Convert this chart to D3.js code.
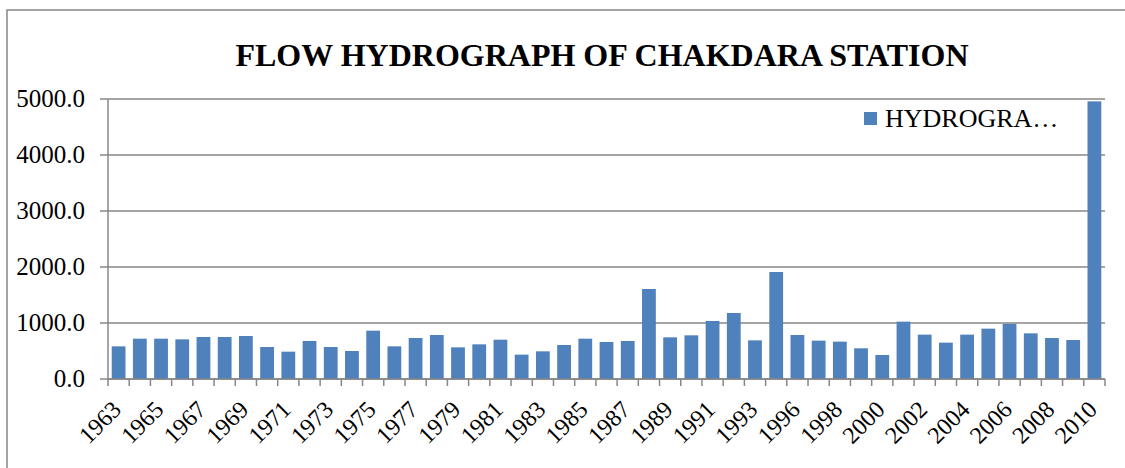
<!DOCTYPE html>
<html>
<head>
<meta charset="utf-8">
<script src="https://cdn.jsdelivr.net/npm/d3@7"></script>
<style>
  html, body { margin: 0; background: #fff; overflow: hidden; }
  svg { display: block; }
  text { font-family: "Liberation Serif", "Times New Roman", serif; fill: #000; }
</style>
</head>
<body>
<svg id="chart" width="1125" height="468"></svg>
<script>
// categories (1994 is not in the record)
const years = [1963, 1964, 1965, 1966, 1967, 1968, 1969, 1970, 1971, 1972, 1973, 1974, 1975,
  1976, 1977, 1978, 1979, 1980, 1981, 1982, 1983, 1984, 1985, 1986, 1987, 1988, 1989, 1990,
  1991, 1992, 1993, 1995, 1996, 1997, 1998, 1999, 2000, 2001, 2002, 2003, 2004, 2005, 2006,
  2007, 2008, 2009, 2010];
const flows = [583, 720, 720, 708, 750, 750, 768, 571, 488, 679, 571, 500, 863,
  583, 732, 786, 565, 619, 702, 435, 494, 607, 720, 661, 679, 1607, 744, 780,
  1036, 1179, 690, 1911, 786, 685, 667, 548, 429, 1024, 792, 649, 792, 899, 985,
  815, 732, 696, 4958];
const yTicks = [0, 1000, 2000, 3000, 4000, 5000];
const seriesName = "HYDROGRA\u2026";
const title = "FLOW HYDROGRAPH OF CHAKDARA STATION";

const svg = d3.select("#chart");
const gridColor = "#878787";
const barColor = "#4f81bd";

// outer frame of the chart area: only top and left edges are inside the picture
svg.append("path")
  .attr("d", "M7,468 L7,10 L1125,10")
  .attr("fill", "none")
  .attr("stroke", gridColor)
  .attr("stroke-width", 1.5);

const plotLeft = 108, plotRight = 1105, plotTop = 99, plotBottom = 379;

const x = d3.scaleBand()
  .domain(years)
  .range([plotLeft, plotRight])
  .paddingInner(0.35)
  .paddingOuter(0.175);

const y = d3.scaleLinear().domain([0, 5000]).range([plotBottom, plotTop]);

// gridlines + y labels
yTicks.forEach((t) => {
  svg.append("line")
    .attr("x1", plotLeft - 8).attr("x2", plotRight)
    .attr("y1", y(t)).attr("y2", y(t))
    .attr("stroke", gridColor)
    .attr("stroke-width", 1.5);
  svg.append("text")
    .attr("x", 85).attr("y", y(t) + 8)
    .attr("text-anchor", "end")
    .attr("font-size", 25)
    .text(d3.format(".1f")(t));
});

// y axis line
svg.append("line")
  .attr("x1", plotLeft).attr("x2", plotLeft)
  .attr("y1", plotTop).attr("y2", plotBottom)
  .attr("stroke", gridColor).attr("stroke-width", 1.5);

// bars
svg.selectAll("rect.bar")
  .data(years)
  .enter()
  .append("rect")
  .attr("class", "bar")
  .attr("x", (d) => x(d))
  .attr("width", x.bandwidth())
  .attr("y", (d, i) => y(flows[i]))
  .attr("height", (d, i) => plotBottom - y(flows[i]))
  .attr("fill", barColor);

// x axis with ticks between categories
const step = x.step();
const edges = years.map((d) => x(d) + x.bandwidth() / 2 - step / 2);
edges.push(plotRight);
edges.forEach((e) => {
  svg.append("line")
    .attr("x1", e).attr("x2", e)
    .attr("y1", plotBottom).attr("y2", plotBottom + 7)
    .attr("stroke", gridColor).attr("stroke-width", 1.5);
});
svg.append("line")
  .attr("x1", plotLeft).attr("x2", plotRight)
  .attr("y1", plotBottom).attr("y2", plotBottom)
  .attr("stroke", gridColor).attr("stroke-width", 1.5);

// every other year label, rotated
years.forEach((d, i) => {
  if (i % 2 !== 0) return;
  const cx = x(d) + x.bandwidth() / 2 + 4;
  svg.append("text")
    .attr("transform", `translate(${cx},411) rotate(-45)`)
    .attr("text-anchor", "end")
    .attr("font-size", 24)
    .text(d);
});

// title
svg.append("text")
  .attr("x", 602).attr("y", 66)
  .attr("text-anchor", "middle")
  .attr("font-size", 32)
  .attr("font-weight", "bold")
  .text(title);

// legend
svg.append("rect")
  .attr("x", 864).attr("y", 112)
  .attr("width", 13).attr("height", 13)
  .attr("fill", barColor);
svg.append("text")
  .attr("x", 885).attr("y", 127)
  .attr("font-size", 26)
  .text(seriesName);
</script>
</body>
</html>
